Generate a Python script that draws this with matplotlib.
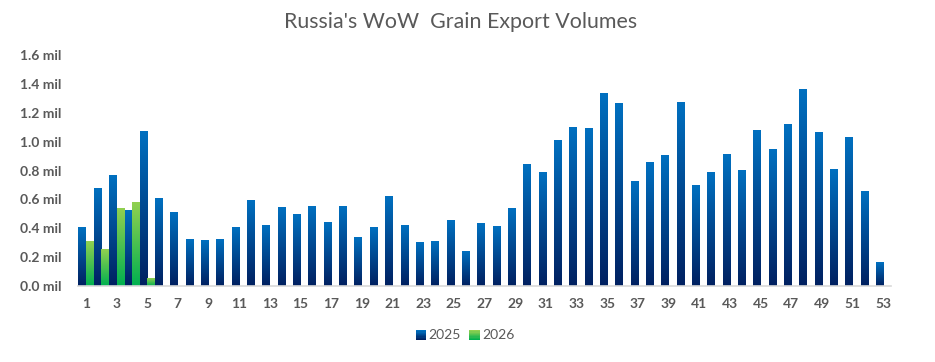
import matplotlib
matplotlib.use("Agg")
import matplotlib.pyplot as plt
import numpy as np
from matplotlib.colors import LinearSegmentedColormap
from matplotlib.patches import Rectangle
from matplotlib.legend_handler import HandlerBase

plt.rcParams['font.family'] = ['Lato', 'DejaVu Sans']

# weekly grain exports, million tonnes
weeks = list(range(1, 54))
vol_2025 = [0.402, 0.672, 0.762, 0.526, 1.073, 0.609, 0.506, 0.319, 0.312, 0.319,
            0.402, 0.589, 0.422, 0.547, 0.492, 0.554, 0.443, 0.554, 0.339, 0.402,
            0.623, 0.416, 0.298, 0.305, 0.457, 0.242, 0.436, 0.409, 0.540, 0.845,
            0.789, 1.011, 1.101, 1.094, 1.330, 1.267, 0.727, 0.852, 0.907, 1.274,
            0.693, 0.789, 0.914, 0.803, 1.080, 0.942, 1.122, 1.364, 1.066, 0.810,
            1.032, 0.658, 0.166]
vol_2026 = [0.305, 0.256, 0.540, 0.575, 0.055]
series_names = ['2025', '2026']
y_ticks = [0.0, 0.2, 0.4, 0.6, 0.8, 1.0, 1.2, 1.4, 1.6]

blue_cmap = LinearSegmentedColormap.from_list('b', ['#002060', '#0070C0'])
green_cmap = LinearSegmentedColormap.from_list('g', ['#00B050', '#92D050'])
grad = np.linspace(0, 1, 256).reshape(-1, 1)

fig = plt.figure(figsize=(9.35, 3.62), dpi=100)
ax = fig.add_axes([78 / 935, 76 / 362, (891 - 78) / 935, (286 - 55) / 362])

w = 0.46
off = 0.245


def grad_bar(x, h, cmap):
    ax.imshow(grad, extent=[x - w / 2, x + w / 2, 0, h], origin='lower',
              aspect='auto', cmap=cmap, zorder=2, interpolation='bilinear')


for wk, v in zip(weeks, vol_2025):
    grad_bar(wk - off, v, blue_cmap)
for wk, v in zip(weeks, vol_2026):
    grad_bar(wk + off, v, green_cmap)

ax.set_xlim(0.5, 53.5)
ax.set_ylim(0, 1.6)

ax.set_yticks(y_ticks)
ax.set_yticklabels([f'{t:.1f} mil' for t in y_ticks])
ax.set_xticks(weeks[::2])
ax.set_xticklabels([str(wk) for wk in weeks[::2]])
ax.tick_params(length=0, labelsize=10, colors='#595959')
ax.tick_params(axis='y', pad=12)
ax.tick_params(axis='x', pad=9)
for lbl in ax.get_xticklabels() + ax.get_yticklabels():
    lbl.set_fontweight('bold')

for s in ['top', 'right', 'left']:
    ax.spines[s].set_visible(False)
ax.spines['bottom'].set_color('#D9D9D9')
ax.spines['bottom'].set_linewidth(1.2)
ax.spines['bottom'].set_zorder(3)

fig.text(461 / 935, 1 - 22 / 362, "Russia's WoW  Grain Export Volumes",
         fontsize=15.4, color='#595959', ha='center', va='center')


class GradHandler(HandlerBase):
    def __init__(self, cmap):
        super().__init__()
        self.cmap = cmap

    def create_artists(self, legend, orig_handle, xdescent, ydescent,
                       width, height, fontsize, trans):
        n = 8
        sz = height * 1.05
        x0 = width - sz
        arts = []
        for i in range(n):
            r = Rectangle((x0, -ydescent + sz * i / n - 1), sz, sz / n + 0.3,
                          facecolor=self.cmap(i / (n - 1)), edgecolor='none',
                          transform=trans)
            arts.append(r)
        return arts


h1 = Rectangle((0, 0), 1, 1)
h2 = Rectangle((0, 0), 1, 1)
fig.legend([h1, h2], series_names, loc='center', bbox_to_anchor=(0.497, 0.075),
           ncol=2, frameon=False, fontsize=10, labelcolor='#595959',
           handler_map={h1: GradHandler(blue_cmap), h2: GradHandler(green_cmap)},
           handlelength=0.8, handletextpad=0.2, columnspacing=0.55)

fig.savefig('out.png', dpi=100)
